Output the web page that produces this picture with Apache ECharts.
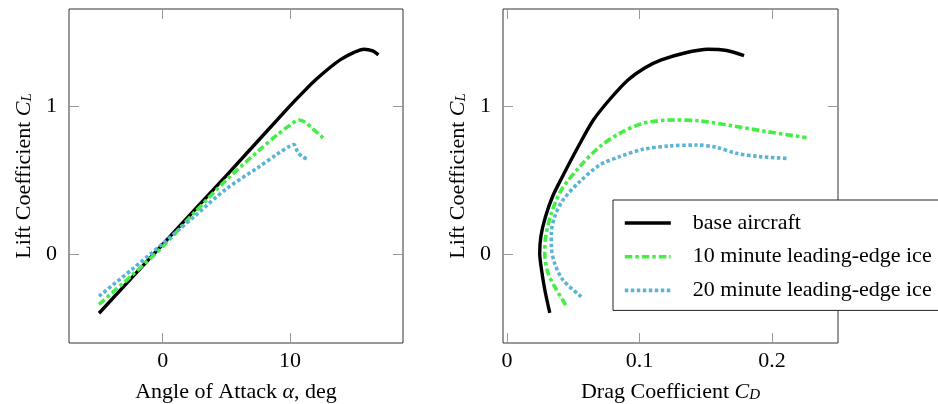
<!DOCTYPE html>
<html>
<head>
<meta charset="utf-8">
<script src="https://cdn.jsdelivr.net/npm/echarts@6/dist/echarts.min.js"></script>
<style>
html,body{margin:0;padding:0;background:#fff;}
#c{width:938px;height:404px;}
</style>
</head>
<body>
<div id="c"></div>
<script>
// ---- data ----
const seriesNames = ['base aircraft', '10 minute leading-edge ice', '20 minute leading-edge ice'];

// Lift curve: angle of attack (deg) vs CL
const baseAlpha = [-5, 0, 5, 10, 11, 12, 13, 14, 15, 15.8, 16.5, 16.95];
const baseCL    = [-0.40, 0.065, 0.53, 1.0, 1.09, 1.175, 1.25, 1.315, 1.36, 1.383, 1.372, 1.345];
const ice10Alpha = [-5, -2.5, 0, 2.5, 5, 7.5, 9, 10, 10.7, 11.2, 11.8, 12.6];
const ice10CL    = [-0.34, -0.15, 0.05, 0.28, 0.50, 0.695, 0.805, 0.87, 0.905, 0.89, 0.845, 0.785];
const ice20Alpha = [-5, -2.5, 0, 2.5, 5, 7.5, 9, 10, 10.3, 10.6, 11, 11.45];
const ice20CL    = [-0.285, -0.11, 0.07, 0.255, 0.44, 0.585, 0.675, 0.73, 0.74, 0.69, 0.655, 0.64];

// Drag polar: CD vs CL
const basePolarCD = [0.0323, 0.0285, 0.0258, 0.0247, 0.0256, 0.029, 0.0345, 0.0418, 0.0532, 0.0652, 0.0778, 0.0913, 0.1039, 0.1165, 0.1341, 0.1517, 0.1658, 0.1789];
const basePolarCL = [-0.397, -0.24, -0.09, 0.005, 0.12, 0.25, 0.39, 0.522, 0.716, 0.905, 1.047, 1.176, 1.257, 1.311, 1.358, 1.383, 1.375, 1.34];
const ice10PolarCD = [0.0443, 0.036, 0.031, 0.0285, 0.0292, 0.0335, 0.041, 0.0549, 0.07, 0.085, 0.1026, 0.1253, 0.1454, 0.1706, 0.1958, 0.226];
const ice10PolarCL = [-0.345, -0.221, -0.13, 0.005, 0.117, 0.275, 0.432, 0.59, 0.725, 0.815, 0.883, 0.905, 0.899, 0.865, 0.827, 0.786];
const ice20PolarCD = [0.0561, 0.0423, 0.036, 0.0335, 0.0335, 0.036, 0.0423, 0.0549, 0.07, 0.085, 0.1026, 0.1228, 0.143, 0.158, 0.173, 0.1907, 0.2109];
const ice20PolarCL = [-0.288, -0.176, -0.063, 0.05, 0.14, 0.252, 0.365, 0.489, 0.601, 0.658, 0.707, 0.73, 0.736, 0.721, 0.68, 0.658, 0.646];

// tick values
const alphaTicks = [0, 10];
const cdTicks = [0, 0.1, 0.2];
const clTicks = [0, 1];

// ---- chart ----
const FONT = 'Liberation Serif';
const FS = 22;
const zip = (a, b) => a.map((v, i) => [v, b[i]]);

const styles = [
  { color: '#000000', width: 3.4, type: 'solid' },
  { color: '#44ee44', width: 3.6, type: [7.5, 3, 3.5, 3] },
  { color: '#5ab4d6', width: 3.6, type: [3.5, 2.5] }
];

const tickStyle = { show: true, inside: true, length: 10, lineStyle: { color: '#999', width: 1 } };
const rich = {
  i: { fontFamily: FONT, fontSize: FS, fontStyle: 'italic', color: '#000' },
  sub: { fontFamily: FONT, fontSize: 15, fontStyle: 'italic', color: '#000', verticalAlign: 'bottom', lineHeight: 16 }
};
const nameStyle = { fontFamily: FONT, fontSize: FS, color: '#000', rich: rich };
const labelStyle = { fontFamily: FONT, fontSize: FS, color: '#000' };

function xAx(grid, min, max, ticks, name, bottom) {
  return {
    type: 'value', gridIndex: grid, min: min, max: max, position: bottom ? 'bottom' : 'top',
    axisLine: { show: false, onZero: false }, splitLine: { show: false },
    axisTick: Object.assign({ customValues: ticks }, tickStyle),
    axisLabel: bottom ? Object.assign({ show: true, customValues: ticks, margin: 7 }, labelStyle) : { show: false },
    name: bottom ? name : '', nameLocation: 'middle', nameGap: 38, nameTextStyle: nameStyle
  };
}
function yAx(grid, min, max, ticks, name, left) {
  return {
    type: 'value', gridIndex: grid, min: min, max: max, position: left ? 'left' : 'right',
    axisLine: { show: false, onZero: false }, splitLine: { show: false },
    axisTick: Object.assign({ customValues: ticks }, tickStyle),
    axisLabel: left ? Object.assign({ show: true, customValues: ticks, margin: 12 }, labelStyle) : { show: false },
    name: left ? name : '', nameLocation: 'middle', nameRotate: 90, nameGap: 34, nameTextStyle: nameStyle
  };
}

const clName = 'Lift Coefficient {i|C}{sub|L}';
const chart = echarts.init(document.getElementById('c'), null, { renderer: 'canvas' });

function mk(i, data, xi, yi) {
  return {
    name: seriesNames[i], type: 'line', xAxisIndex: xi, yAxisIndex: yi,
    data: data, symbol: 'none', smooth: 0.3, animation: false, z: 3,
    lineStyle: { color: styles[i].color, width: styles[i].width, type: styles[i].type, cap: 'butt' },
    itemStyle: { color: styles[i].color }
  };
}

chart.setOption({
  animation: false,
  backgroundColor: '#fff',
  grid: [
    { left: 69, top: 9, width: 334, height: 334, show: true, borderColor: '#333', borderWidth: 1, backgroundColor: 'transparent', containLabel: false, outerBoundsMode: 'none' },
    { left: 503, top: 9, width: 335, height: 334, show: true, borderColor: '#333', borderWidth: 1, backgroundColor: 'transparent', containLabel: false, outerBoundsMode: 'none' }
  ],
  xAxis: [
    xAx(0, -7.36, 18.88, alphaTicks, 'Angle of Attack {i|α}, deg', true),
    xAx(0, -7.36, 18.88, alphaTicks, '', false),
    xAx(1, -0.003, 0.2498, cdTicks, 'Drag Coefficient {i|C}{sub|D}', true),
    xAx(1, -0.003, 0.2498, cdTicks, '', false)
  ],
  yAxis: [
    yAx(0, -0.601, 1.655, clTicks, clName, true),
    yAx(0, -0.601, 1.655, clTicks, '', false),
    yAx(1, -0.601, 1.655, clTicks, clName, true),
    yAx(1, -0.601, 1.655, clTicks, '', false)
  ],
  legend: {
    data: seriesNames.map((n, i) => ({
      name: n,
      itemStyle: { color: 'rgba(0,0,0,0)', borderColor: 'rgba(0,0,0,0)', borderWidth: 0, opacity: 0 },
      lineStyle: { color: styles[i].color, width: styles[i].width, type: styles[i].type, opacity: 1 }
    })),
    orient: 'vertical',
    left: 613, top: 200,
    padding: [12, 40, 9, 10],
    itemWidth: 46, itemHeight: 14, itemGap: 11.7,
    backgroundColor: '#fff', borderColor: '#222', borderWidth: 1, borderRadius: 0,
    textStyle: { fontFamily: FONT, fontSize: FS, color: '#000', lineHeight: 20, padding: [0, 0, 0, 17] },
    z: 10
  },
  series: [
    mk(0, zip(baseAlpha, baseCL), 0, 0),
    mk(1, zip(ice10Alpha, ice10CL), 0, 0),
    mk(2, zip(ice20Alpha, ice20CL), 0, 0),
    mk(0, zip(basePolarCD, basePolarCL), 2, 2),
    mk(1, zip(ice10PolarCD, ice10PolarCL), 2, 2),
    mk(2, zip(ice20PolarCD, ice20PolarCL), 2, 2)
  ]
});
</script>
</body>
</html>
